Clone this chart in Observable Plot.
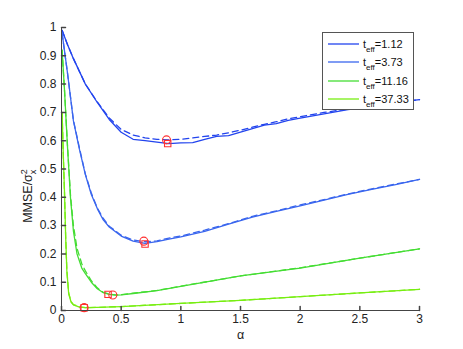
<!DOCTYPE html>
<html><head><meta charset="utf-8">
<script src="https://cdn.jsdelivr.net/npm/d3@7"></script>
<script src="https://cdn.jsdelivr.net/npm/@observablehq/plot@0.6"></script>
<style>
body{margin:0;background:#fff;font-family:"Liberation Sans",Arial,sans-serif}
#wrap{position:relative;width:463px;height:349px}
#legend{position:absolute;left:322px;top:32px;width:90px;height:76px;border:1px solid #555;background:#fff;font-size:11px;color:#111}
#legend .row{position:absolute;left:0;height:14px;display:flex;align-items:center}
#legend sub{font-size:8px;vertical-align:-4px;line-height:0}
</style></head><body><div id="wrap"></div><script>
// ---- data ----
const legendLabels = ["1.12", "3.73", "11.16", "37.33"];
const colors = ["#2244ee", "#3a66ee", "#44dd33", "#77ee11"];
const xTicks = [0, 0.5, 1, 1.5, 2, 2.5, 3];
const yTicks = [0, 0.1, 0.2, 0.3, 0.4, 0.5, 0.6, 0.7, 0.8, 0.9, 1];

const alpha1 = [0.005,0.05,0.1,0.2,0.3,0.4,0.5,0.6,0.7,0.8,0.9,1.0,1.1,1.2,1.3,1.4,1.5,1.6,1.7,1.8,1.9,2.0,2.2,2.4,2.6,2.8,3.0];
const solid1  = [0.99,0.94,0.89,0.80,0.735,0.675,0.63,0.605,0.60,0.595,0.59,0.592,0.593,0.605,0.615,0.618,0.63,0.643,0.655,0.66,0.672,0.68,0.695,0.71,0.72,0.735,0.745];
const dashed1 = [0.99,0.94,0.89,0.80,0.737,0.68,0.64,0.62,0.61,0.605,0.603,0.605,0.61,0.615,0.62,0.628,0.637,0.648,0.658,0.667,0.677,0.685,0.70,0.712,0.724,0.735,0.745];

const alpha2 = [0.005,0.05,0.1,0.15,0.2,0.25,0.3,0.35,0.4,0.5,0.6,0.7,0.8,0.9,1.0,1.2,1.4,1.6,1.8,2.0,2.2,2.4,2.6,2.8,3.0];
const solid2  = [0.98,0.84,0.67,0.57,0.48,0.41,0.36,0.32,0.295,0.263,0.245,0.237,0.243,0.252,0.26,0.28,0.305,0.33,0.35,0.37,0.39,0.41,0.428,0.445,0.463];
const dashed2 = [0.98,0.84,0.672,0.575,0.482,0.415,0.362,0.325,0.298,0.266,0.249,0.243,0.246,0.256,0.263,0.284,0.307,0.333,0.352,0.373,0.392,0.412,0.43,0.447,0.463];

const alpha3 = [0.005,0.025,0.05,0.075,0.1,0.13,0.17,0.2,0.25,0.3,0.35,0.4,0.45,0.5,0.6,0.8,1.0,1.5,2.0,2.5,3.0];
const solid3  = [0.92,0.78,0.58,0.40,0.28,0.20,0.15,0.13,0.10,0.077,0.063,0.057,0.054,0.055,0.06,0.07,0.085,0.122,0.15,0.185,0.218];
const dashed3 = [0.92,0.78,0.585,0.41,0.30,0.22,0.165,0.14,0.105,0.08,0.064,0.058,0.055,0.056,0.061,0.071,0.086,0.122,0.151,0.185,0.218];

const alpha4 = [0.005,0.015,0.025,0.035,0.045,0.06,0.08,0.1,0.15,0.2,0.3,0.5,1.0,1.5,2.0,2.5,3.0];
const solid4  = [0.70,0.55,0.42,0.26,0.14,0.06,0.03,0.02,0.012,0.01,0.011,0.014,0.025,0.036,0.049,0.062,0.075];
const dashed4 = [0.70,0.55,0.42,0.26,0.14,0.062,0.032,0.021,0.013,0.01,0.011,0.014,0.025,0.036,0.049,0.062,0.075];

const circleAlpha = [0.88, 0.69, 0.43, 0.19];
const circleMMSE  = [0.603, 0.245, 0.055, 0.010];
const squareAlpha = [0.89, 0.70, 0.39, 0.19];
const squareMMSE  = [0.590, 0.235, 0.057, 0.010];

// ---- tables ----
const alphas = [alpha1, alpha2, alpha3, alpha4];
const solids = [solid1, solid2, solid3, solid4];
const dasheds = [dashed1, dashed2, dashed3, dashed4];
const solidRows = [], dashedRows = [];
alphas.forEach((a, k) => {
  a.forEach((x, i) => {
    solidRows.push({alpha: x, v: solids[k][i], s: k});
    dashedRows.push({alpha: x, v: dasheds[k][i], s: k});
  });
});
const circles = circleAlpha.map((a, i) => ({alpha: a, v: circleMMSE[i]}));
const squares = squareAlpha.map((a, i) => ({alpha: a, v: squareMMSE[i]}));

const axisColor = "#444";
const tickShape = {draw(ctx, l) { ctx.moveTo(0, 0); ctx.lineTo(0, -l); }};

const marks = [];
for (let k = 0; k < 4; k++) {
  marks.push(Plot.line(dashedRows.filter(d => d.s === k), {x: "alpha", y: "v", stroke: colors[k], strokeWidth: 1.3, strokeDasharray: "6,4"}));
  marks.push(Plot.line(solidRows.filter(d => d.s === k), {x: "alpha", y: "v", stroke: colors[k], strokeWidth: 1.3}));
}
marks.push(
  Plot.dot(circles, {x: "alpha", y: "v", r: 4, stroke: "#ff3030", strokeWidth: 1.1, fill: "none"}),
  Plot.dot(squares, {x: "alpha", y: "v", r: 3.6, symbol: "square", stroke: "#ff3030", strokeWidth: 1.1, fill: "none"}),
  Plot.ruleX([0], {stroke: axisColor}),
  Plot.ruleY([0], {stroke: axisColor}),
  Plot.vector(xTicks, {x: d => d, y: 0, length: 4, anchor: "start", shape: tickShape, stroke: axisColor}),
  Plot.vector(yTicks, {x: 0, y: d => d, length: 4, rotate: 90, anchor: "start", shape: tickShape, stroke: axisColor}),
  Plot.axisX(xTicks, {tickSize: 0, tickPadding: 4, tickFormat: d => String(d), label: null, fill: "#222"}),
  Plot.axisY(yTicks, {tickSize: 0, tickPadding: 5, tickFormat: d => String(d), label: null, fill: "#222"}),
  Plot.text(["α"], {frameAnchor: "bottom", dy: 28, fontSize: 12.5, fill: "#222"})
);

const chart = Plot.plot({
  width: 463, height: 349,
  marginLeft: 61, marginRight: 44, marginTop: 27, marginBottom: 39,
  x: {domain: [0, 3]},
  y: {domain: [0, 1]},
  style: {fontSize: "12px", fontFamily: "'Liberation Sans', Arial, sans-serif", background: "#fff"},
  marks
});

// y-axis label with stacked super/subscript
const svg = d3.select(chart);
const lab = svg.append("text")
  .attr("transform", "translate(32,196) rotate(-90)")
  .attr("font-size", 12.5).attr("fill", "#222");
lab.append("tspan").text("MMSE/σ");
lab.append("tspan").attr("dy", -5).attr("font-size", 9).text("2");
lab.append("tspan").attr("dx", -5).attr("dy", 9).attr("font-size", 9).text("x");

const wrap = document.getElementById("wrap");
wrap.appendChild(chart);

// legend
const leg = document.createElement("div");
leg.id = "legend";
legendLabels.forEach((t, i) => {
  const row = document.createElement("div");
  row.className = "row";
  row.style.top = (3.7 + i * 18.5) + "px";
  row.innerHTML = `<svg width="40" height="14"><line x1="5" x2="36" y1="7" y2="7" stroke="${colors[i]}" stroke-width="1.3"/></svg><span>t<sub>eff</sub>=${t}</span>`;
  leg.appendChild(row);
});
wrap.appendChild(leg);
</script></body></html>
